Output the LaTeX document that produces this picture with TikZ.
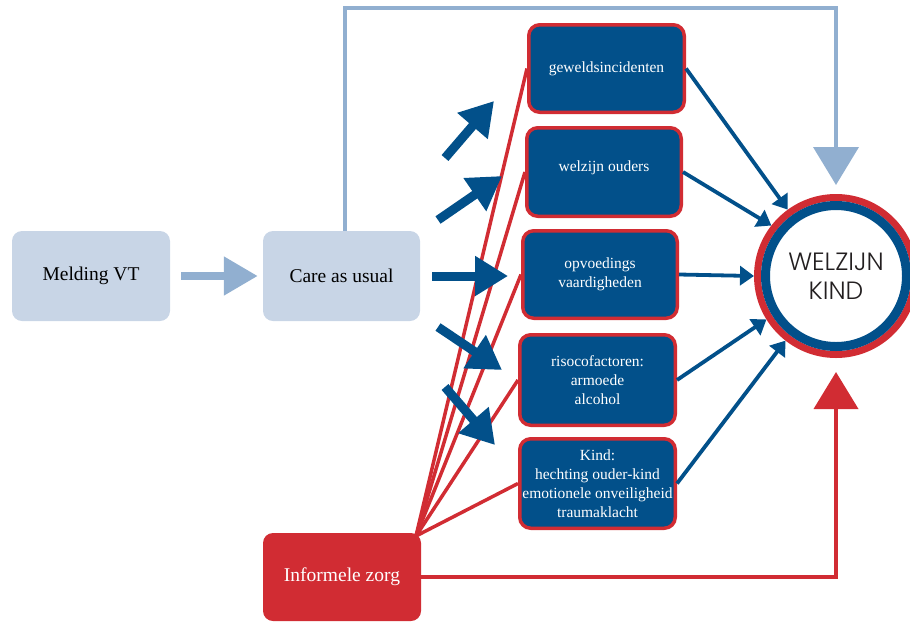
\documentclass[tikz,border=0pt]{standalone}
\usepackage{fontspec}
\setmainfont{Liberation Serif}
\newfontfamily\kindfont{Poppins Light}
\usetikzlibrary{arrows.meta}
\definecolor{dblue}{HTML}{02508A}
\definecolor{kred}{HTML}{D12C33}
\definecolor{lbox}{HTML}{C8D5E6}
\definecolor{larr}{HTML}{91AFD0}
\definecolor{ktext}{HTML}{231F20}
\begin{document}
\begin{tikzpicture}[x=1pt,y=-1pt,
  lbbox/.style={fill=lbox, rounded corners=10pt, minimum width=158pt, minimum height=90pt, inner sep=0pt, font=\fontsize{19.5}{23}\selectfont, text=black},
  infbox/.style={fill=kred, rounded corners=10pt, minimum width=158pt, minimum height=88pt, inner sep=0pt, font=\fontsize{19.5}{23}\selectfont, text=white},
  dbbox/.style={fill=dblue, draw=kred, line width=3.5pt, rounded corners=11pt, inner sep=0pt, align=center, text=white, font=\fontsize{15.5}{19}\selectfont},
  bigarrow/.style={draw=dblue, line width=9pt, -{Triangle[width=38pt,length=33pt]}},
  thinarrow/.style={draw=dblue, line width=3.8pt, -{Triangle[width=19pt,length=14pt]}},
  redline/.style={draw=kred, line width=3.5pt},
  lbarrow/.style={draw=larr, line width=8pt, -{Triangle[width=37pt,length=34pt]}},
  lbtop/.style={draw=larr, line width=4pt, -{Triangle[width=45pt,length=38pt]}},
  redarrow/.style={draw=kred, line width=4pt, -{Triangle[width=44pt,length=37pt]}}
]
\useasboundingbox (0,0) rectangle (910,622);

% boxes
\node[lbbox] (meld) at (91,276) {Melding VT};
\node[lbbox, minimum width=157pt] (care) at (341.5,276) {Care as usual};
\node[infbox] (inf) at (342,577) {Informele zorg};

\node[dbbox, minimum width=155.5pt, minimum height=87.5pt] (b1) at (606.5,68.5) {geweldsincidenten};
\node[dbbox, minimum width=154.5pt, minimum height=88.5pt, text depth=12pt] (b2) at (604,172) {welzijn ouders};
\node[dbbox, minimum width=154.5pt, minimum height=87.5pt] (b3) at (600,274.5) {opvoedings\\vaardigheden};
\node[dbbox, minimum width=155.5pt, minimum height=90.5pt] (b4) at (597.5,380) {risocofactoren:\\armoede\\alcohol};
\node[dbbox, minimum width=155.5pt, minimum height=89.5pt] (b5) at (597.5,483.5) {Kind:\\hechting ouder-kind\\emotionele onveiligheid\\traumaklacht};

% central circle
\node[circle, fill=white, draw=kred, line width=7pt, minimum size=157pt, inner sep=0pt, outer sep=3.5pt, align=center, text=ktext, font=\kindfont\fontsize{25}{29}\selectfont] (kind) at (836,276) {WELZIJN\\KIND};
\draw[dblue, line width=9pt] (kind.center) circle[radius=70.5pt];

% red lines from informele zorg
\coordinate (src) at (416,536);
\foreach \b in {b1,b2,b3,b4,b5} {
  \draw[redline] (src) -- (\b.west);
}

% big blue arrows
\coordinate (a1s) at (445,158); \coordinate (a1e) at (494,101);
\coordinate (a2s) at (438,220); \coordinate (a2e) at (502,176);
\coordinate (a3s) at (432,276); \coordinate (a3e) at (508,276);
\coordinate (a4s) at (438,327); \coordinate (a4e) at (502,370);
\coordinate (a5s) at (445,387); \coordinate (a5e) at (495,445);
\draw[bigarrow] (a1s) -- (a1e);
\draw[bigarrow] (a2s) -- (a2e);
\draw[bigarrow] (a3s) -- (a3e);
\draw[bigarrow] (a4s) -- (a4e);
\draw[bigarrow] (a5s) -- (a5e);

% thin arrows to circle
\draw[thinarrow] (b1.east) -- (kind.126);
\draw[thinarrow] (b2.east) -- (kind.142);
\draw[thinarrow] (b3.east) -- (kind.180);
\draw[thinarrow] (b4.east) -- (kind.212);
\draw[thinarrow] (b5.east) -- (kind.232);

% light blue arrows
\draw[lbarrow, shorten <=11pt, shorten >=5pt] (meld.east) -- (care.west);
\coordinate (top) at (600,8);
\draw[lbtop] ([xshift=3pt]care.north) |- (top) -| ([yshift=9pt]kind.north);

% red arrow
\draw[redarrow] (inf.east) -| ([yshift=-14pt]kind.south);
\end{tikzpicture}
\end{document}
